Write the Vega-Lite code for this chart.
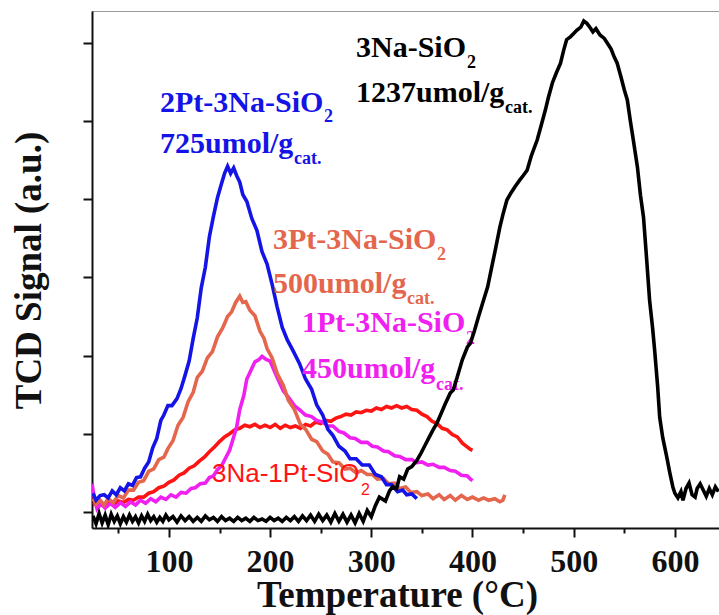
{
  "$schema": "https://vega.github.io/schema/vega-lite/v6.json",
  "width": 627,
  "height": 517,
  "autosize": "none",
  "padding": {"left": 92, "top": 11, "right": 0, "bottom": 87},
  "background": "white",
  "config": {
    "view": {"stroke": "#9a9a9a", "strokeWidth": 1},
    "axis": {
      "grid": false,
      "domainColor": "#111111",
      "domainWidth": 2,
      "tickColor": "#111111",
      "tickWidth": 2,
      "labelFont": "Liberation Serif",
      "labelFontWeight": "bold",
      "labelColor": "#111111",
      "titleFont": "Liberation Serif",
      "titleFontWeight": "bold",
      "titleColor": "#111111"
    }
  },
  "datasets": {
    "curves": [
      {"s":"red","t":25,"v":0.09},{"s":"red","t":30,"v":0.12},{"s":"red","t":35,"v":0.08},{"s":"red","t":40,"v":0.13},{"s":"red","t":45,"v":0.1},{"s":"red","t":50,"v":0.14},{"s":"red","t":55,"v":0.12},{"s":"red","t":60,"v":0.16},{"s":"red","t":65,"v":0.15},{"s":"red","t":70,"v":0.19},{"s":"red","t":75,"v":0.19},{"s":"red","t":80,"v":0.24},{"s":"red","t":85,"v":0.26},{"s":"red","t":90,"v":0.31},{"s":"red","t":95,"v":0.33},{"s":"red","t":100,"v":0.38},{"s":"red","t":105,"v":0.41},{"s":"red","t":110,"v":0.47},{"s":"red","t":115,"v":0.5},{"s":"red","t":120,"v":0.56},{"s":"red","t":125,"v":0.59},{"s":"red","t":130,"v":0.65},{"s":"red","t":135,"v":0.7},{"s":"red","t":140,"v":0.77},{"s":"red","t":145,"v":0.83},{"s":"red","t":150,"v":0.9},{"s":"red","t":155,"v":0.96},{"s":"red","t":160,"v":1.0},{"s":"red","t":165,"v":1.05},{"s":"red","t":170,"v":1.07},{"s":"red","t":175,"v":1.11},{"s":"red","t":180,"v":1.09},{"s":"red","t":185,"v":1.12},{"s":"red","t":190,"v":1.08},{"s":"red","t":195,"v":1.11},{"s":"red","t":200,"v":1.08},{"s":"red","t":205,"v":1.12},{"s":"red","t":210,"v":1.07},{"s":"red","t":215,"v":1.11},{"s":"red","t":220,"v":1.08},{"s":"red","t":225,"v":1.1},{"s":"red","t":230,"v":1.07},{"s":"red","t":235,"v":1.12},{"s":"red","t":240,"v":1.1},{"s":"red","t":245,"v":1.15},{"s":"red","t":250,"v":1.13},{"s":"red","t":255,"v":1.17},{"s":"red","t":260,"v":1.16},{"s":"red","t":265,"v":1.2},{"s":"red","t":270,"v":1.22},{"s":"red","t":275,"v":1.25},{"s":"red","t":280,"v":1.24},{"s":"red","t":285,"v":1.28},{"s":"red","t":290,"v":1.27},{"s":"red","t":295,"v":1.3},{"s":"red","t":300,"v":1.29},{"s":"red","t":305,"v":1.33},{"s":"red","t":310,"v":1.31},{"s":"red","t":315,"v":1.35},{"s":"red","t":320,"v":1.33},{"s":"red","t":325,"v":1.36},{"s":"red","t":330,"v":1.33},{"s":"red","t":335,"v":1.35},{"s":"red","t":340,"v":1.31},{"s":"red","t":345,"v":1.3},{"s":"red","t":350,"v":1.25},{"s":"red","t":355,"v":1.22},{"s":"red","t":360,"v":1.16},{"s":"red","t":365,"v":1.13},{"s":"red","t":370,"v":1.07},{"s":"red","t":375,"v":1.05},{"s":"red","t":380,"v":0.99},{"s":"red","t":385,"v":0.96},{"s":"red","t":390,"v":0.88},{"s":"red","t":395,"v":0.83},{"s":"red","t":398,"v":0.8},{"s":"red","t":400,"v":0.79},

      {"s":"magenta","t":24,"v":0.36},{"s":"magenta","t":26,"v":0.2},{"s":"magenta","t":29,"v":0.04},{"s":"magenta","t":33,"v":0.11},{"s":"magenta","t":37,"v":0.05},{"s":"magenta","t":42,"v":0.11},{"s":"magenta","t":47,"v":0.06},{"s":"magenta","t":52,"v":0.12},{"s":"magenta","t":57,"v":0.07},{"s":"magenta","t":62,"v":0.13},{"s":"magenta","t":67,"v":0.09},{"s":"magenta","t":72,"v":0.15},{"s":"magenta","t":77,"v":0.11},{"s":"magenta","t":82,"v":0.17},{"s":"magenta","t":87,"v":0.13},{"s":"magenta","t":92,"v":0.19},{"s":"magenta","t":97,"v":0.16},{"s":"magenta","t":102,"v":0.22},{"s":"magenta","t":107,"v":0.19},{"s":"magenta","t":112,"v":0.25},{"s":"magenta","t":117,"v":0.24},{"s":"magenta","t":122,"v":0.3},{"s":"magenta","t":126,"v":0.31},{"s":"magenta","t":131,"v":0.36},{"s":"magenta","t":136,"v":0.37},{"s":"magenta","t":140,"v":0.44},{"s":"magenta","t":144,"v":0.46},{"s":"magenta","t":148,"v":0.54},{"s":"magenta","t":152,"v":0.59},{"s":"magenta","t":156,"v":0.69},{"s":"magenta","t":160,"v":0.79},{"s":"magenta","t":164,"v":0.96},{"s":"magenta","t":167,"v":1.09},{"s":"magenta","t":170,"v":1.31},{"s":"magenta","t":174,"v":1.49},{"s":"magenta","t":177,"v":1.7},{"s":"magenta","t":181,"v":1.81},{"s":"magenta","t":185,"v":1.92},{"s":"magenta","t":189,"v":1.95},{"s":"magenta","t":192,"v":1.99},{"s":"magenta","t":196,"v":1.95},{"s":"magenta","t":200,"v":1.93},{"s":"magenta","t":204,"v":1.81},{"s":"magenta","t":208,"v":1.69},{"s":"magenta","t":213,"v":1.55},{"s":"magenta","t":218,"v":1.47},{"s":"magenta","t":224,"v":1.36},{"s":"magenta","t":229,"v":1.31},{"s":"magenta","t":235,"v":1.24},{"s":"magenta","t":241,"v":1.22},{"s":"magenta","t":246,"v":1.17},{"s":"magenta","t":252,"v":1.15},{"s":"magenta","t":257,"v":1.1},{"s":"magenta","t":262,"v":1.1},{"s":"magenta","t":268,"v":1.03},{"s":"magenta","t":273,"v":1.01},{"s":"magenta","t":279,"v":0.95},{"s":"magenta","t":284,"v":0.94},{"s":"magenta","t":290,"v":0.89},{"s":"magenta","t":296,"v":0.89},{"s":"magenta","t":301,"v":0.84},{"s":"magenta","t":306,"v":0.83},{"s":"magenta","t":312,"v":0.78},{"s":"magenta","t":317,"v":0.77},{"s":"magenta","t":323,"v":0.72},{"s":"magenta","t":328,"v":0.71},{"s":"magenta","t":334,"v":0.67},{"s":"magenta","t":340,"v":0.67},{"s":"magenta","t":345,"v":0.63},{"s":"magenta","t":350,"v":0.64},{"s":"magenta","t":356,"v":0.6},{"s":"magenta","t":361,"v":0.61},{"s":"magenta","t":367,"v":0.57},{"s":"magenta","t":372,"v":0.57},{"s":"magenta","t":378,"v":0.53},{"s":"magenta","t":383,"v":0.52},{"s":"magenta","t":389,"v":0.47},{"s":"magenta","t":395,"v":0.46},{"s":"magenta","t":398,"v":0.42},{"s":"magenta","t":400,"v":0.4},

      {"s":"coral","t":25,"v":0.17},{"s":"coral","t":28,"v":0.1},{"s":"coral","t":32,"v":0.15},{"s":"coral","t":36,"v":0.09},{"s":"coral","t":40,"v":0.17},{"s":"coral","t":45,"v":0.12},{"s":"coral","t":50,"v":0.21},{"s":"coral","t":55,"v":0.18},{"s":"coral","t":60,"v":0.28},{"s":"coral","t":65,"v":0.28},{"s":"coral","t":70,"v":0.38},{"s":"coral","t":75,"v":0.4},{"s":"coral","t":80,"v":0.52},{"s":"coral","t":85,"v":0.55},{"s":"coral","t":90,"v":0.67},{"s":"coral","t":95,"v":0.7},{"s":"coral","t":99,"v":0.81},{"s":"coral","t":104,"v":0.91},{"s":"coral","t":109,"v":1.11},{"s":"coral","t":114,"v":1.21},{"s":"coral","t":119,"v":1.41},{"s":"coral","t":124,"v":1.53},{"s":"coral","t":128,"v":1.72},{"s":"coral","t":133,"v":1.8},{"s":"coral","t":138,"v":1.97},{"s":"coral","t":143,"v":2.05},{"s":"coral","t":148,"v":2.24},{"s":"coral","t":153,"v":2.35},{"s":"coral","t":158,"v":2.5},{"s":"coral","t":162,"v":2.56},{"s":"coral","t":166,"v":2.68},{"s":"coral","t":170,"v":2.76},{"s":"coral","t":173,"v":2.68},{"s":"coral","t":176,"v":2.69},{"s":"coral","t":180,"v":2.58},{"s":"coral","t":185,"v":2.51},{"s":"coral","t":190,"v":2.31},{"s":"coral","t":194,"v":2.22},{"s":"coral","t":197,"v":2.09},{"s":"coral","t":202,"v":1.97},{"s":"coral","t":207,"v":1.77},{"s":"coral","t":213,"v":1.62},{"s":"coral","t":218,"v":1.43},{"s":"coral","t":224,"v":1.31},{"s":"coral","t":230,"v":1.12},{"s":"coral","t":235,"v":1.06},{"s":"coral","t":241,"v":0.93},{"s":"coral","t":246,"v":0.9},{"s":"coral","t":252,"v":0.78},{"s":"coral","t":257,"v":0.74},{"s":"coral","t":262,"v":0.64},{"s":"coral","t":268,"v":0.63},{"s":"coral","t":274,"v":0.55},{"s":"coral","t":279,"v":0.56},{"s":"coral","t":285,"v":0.5},{"s":"coral","t":290,"v":0.53},{"s":"coral","t":296,"v":0.48},{"s":"coral","t":301,"v":0.48},{"s":"coral","t":306,"v":0.42},{"s":"coral","t":312,"v":0.43},{"s":"coral","t":317,"v":0.36},{"s":"coral","t":323,"v":0.37},{"s":"coral","t":328,"v":0.3},{"s":"coral","t":334,"v":0.32},{"s":"coral","t":339,"v":0.25},{"s":"coral","t":345,"v":0.26},{"s":"coral","t":350,"v":0.21},{"s":"coral","t":356,"v":0.23},{"s":"coral","t":361,"v":0.17},{"s":"coral","t":367,"v":0.22},{"s":"coral","t":372,"v":0.16},{"s":"coral","t":378,"v":0.21},{"s":"coral","t":383,"v":0.15},{"s":"coral","t":389,"v":0.21},{"s":"coral","t":395,"v":0.16},{"s":"coral","t":400,"v":0.19},{"s":"coral","t":406,"v":0.15},{"s":"coral","t":411,"v":0.18},{"s":"coral","t":416,"v":0.15},{"s":"coral","t":422,"v":0.17},{"s":"coral","t":427,"v":0.13},{"s":"coral","t":430,"v":0.15},{"s":"coral","t":432,"v":0.22},

      {"s":"blue","t":25,"v":0.24},{"s":"blue","t":28,"v":0.15},{"s":"blue","t":32,"v":0.21},{"s":"blue","t":36,"v":0.22},{"s":"blue","t":40,"v":0.18},{"s":"blue","t":44,"v":0.27},{"s":"blue","t":48,"v":0.22},{"s":"blue","t":52,"v":0.31},{"s":"blue","t":56,"v":0.27},{"s":"blue","t":60,"v":0.36},{"s":"blue","t":64,"v":0.34},{"s":"blue","t":68,"v":0.44},{"s":"blue","t":72,"v":0.45},{"s":"blue","t":76,"v":0.56},{"s":"blue","t":80,"v":0.64},{"s":"blue","t":84,"v":0.82},{"s":"blue","t":88,"v":0.94},{"s":"blue","t":92,"v":1.17},{"s":"blue","t":95,"v":1.24},{"s":"blue","t":99,"v":1.36},{"s":"blue","t":103,"v":1.36},{"s":"blue","t":108,"v":1.45},{"s":"blue","t":112,"v":1.58},{"s":"blue","t":116,"v":1.75},{"s":"blue","t":120,"v":1.93},{"s":"blue","t":124,"v":2.22},{"s":"blue","t":128,"v":2.48},{"s":"blue","t":132,"v":2.87},{"s":"blue","t":136,"v":3.13},{"s":"blue","t":140,"v":3.52},{"s":"blue","t":144,"v":3.78},{"s":"blue","t":148,"v":4.02},{"s":"blue","t":152,"v":4.2},{"s":"blue","t":155,"v":4.33},{"s":"blue","t":158,"v":4.42},{"s":"blue","t":161,"v":4.33},{"s":"blue","t":164,"v":4.4},{"s":"blue","t":167,"v":4.3},{"s":"blue","t":170,"v":4.22},{"s":"blue","t":173,"v":4.06},{"s":"blue","t":177,"v":3.97},{"s":"blue","t":182,"v":3.75},{"s":"blue","t":187,"v":3.6},{"s":"blue","t":192,"v":3.33},{"s":"blue","t":197,"v":3.17},{"s":"blue","t":202,"v":2.91},{"s":"blue","t":207,"v":2.62},{"s":"blue","t":212,"v":2.36},{"s":"blue","t":217,"v":2.2},{"s":"blue","t":222,"v":2.08},{"s":"blue","t":229,"v":1.9},{"s":"blue","t":235,"v":1.7},{"s":"blue","t":241,"v":1.57},{"s":"blue","t":246,"v":1.37},{"s":"blue","t":252,"v":1.24},{"s":"blue","t":257,"v":1.06},{"s":"blue","t":262,"v":0.98},{"s":"blue","t":268,"v":0.84},{"s":"blue","t":274,"v":0.78},{"s":"blue","t":279,"v":0.68},{"s":"blue","t":285,"v":0.68},{"s":"blue","t":291,"v":0.6},{"s":"blue","t":298,"v":0.6},{"s":"blue","t":304,"v":0.48},{"s":"blue","t":310,"v":0.45},{"s":"blue","t":315,"v":0.35},{"s":"blue","t":320,"v":0.35},{"s":"blue","t":326,"v":0.26},{"s":"blue","t":331,"v":0.28},{"s":"blue","t":335,"v":0.22},{"s":"blue","t":340,"v":0.23},{"s":"blue","t":345,"v":0.17},

      {"s":"black","t":25,"v":-0.05},{"s":"black","t":28,"v":-0.15},{"s":"black","t":31,"v":-0.02},{"s":"black","t":34,"v":-0.14},{"s":"black","t":37,"v":-0.04},{"s":"black","t":40,"v":-0.16},{"s":"black","t":43,"v":-0.03},{"s":"black","t":46,"v":-0.12},{"s":"black","t":49,"v":-0.05},{"s":"black","t":52,"v":-0.15},{"s":"black","t":55,"v":-0.06},{"s":"black","t":58,"v":-0.13},{"s":"black","t":61,"v":-0.04},{"s":"black","t":64,"v":-0.12},{"s":"black","t":67,"v":-0.06},{"s":"black","t":70,"v":-0.14},{"s":"black","t":73,"v":-0.05},{"s":"black","t":76,"v":-0.12},{"s":"black","t":79,"v":-0.03},{"s":"black","t":82,"v":-0.11},{"s":"black","t":85,"v":-0.06},{"s":"black","t":88,"v":-0.13},{"s":"black","t":91,"v":-0.07},{"s":"black","t":94,"v":-0.12},{"s":"black","t":97,"v":-0.04},{"s":"black","t":100,"v":-0.1},{"s":"black","t":104,"v":-0.06},{"s":"black","t":108,"v":-0.13},{"s":"black","t":112,"v":-0.05},{"s":"black","t":116,"v":-0.11},{"s":"black","t":120,"v":-0.06},{"s":"black","t":124,"v":-0.12},{"s":"black","t":128,"v":-0.07},{"s":"black","t":132,"v":-0.12},{"s":"black","t":136,"v":-0.05},{"s":"black","t":140,"v":-0.1},{"s":"black","t":144,"v":-0.07},{"s":"black","t":148,"v":-0.12},{"s":"black","t":152,"v":-0.06},{"s":"black","t":156,"v":-0.11},{"s":"black","t":160,"v":-0.08},{"s":"black","t":164,"v":-0.12},{"s":"black","t":168,"v":-0.07},{"s":"black","t":172,"v":-0.11},{"s":"black","t":176,"v":-0.08},{"s":"black","t":180,"v":-0.12},{"s":"black","t":184,"v":-0.07},{"s":"black","t":188,"v":-0.11},{"s":"black","t":192,"v":-0.09},{"s":"black","t":196,"v":-0.12},{"s":"black","t":200,"v":-0.07},{"s":"black","t":204,"v":-0.11},{"s":"black","t":208,"v":-0.08},{"s":"black","t":212,"v":-0.12},{"s":"black","t":216,"v":-0.07},{"s":"black","t":220,"v":-0.11},{"s":"black","t":224,"v":-0.06},{"s":"black","t":228,"v":-0.12},{"s":"black","t":232,"v":-0.05},{"s":"black","t":236,"v":-0.11},{"s":"black","t":240,"v":-0.04},{"s":"black","t":244,"v":-0.12},{"s":"black","t":248,"v":-0.03},{"s":"black","t":252,"v":-0.11},{"s":"black","t":256,"v":-0.04},{"s":"black","t":260,"v":-0.13},{"s":"black","t":264,"v":-0.02},{"s":"black","t":268,"v":-0.12},{"s":"black","t":272,"v":-0.03},{"s":"black","t":276,"v":-0.13},{"s":"black","t":280,"v":-0.04},{"s":"black","t":284,"v":-0.14},{"s":"black","t":288,"v":-0.02},{"s":"black","t":292,"v":-0.12},{"s":"black","t":296,"v":0.02},{"s":"black","t":300,"v":-0.06},{"s":"black","t":304,"v":0.08},{"s":"black","t":308,"v":0.19},{"s":"black","t":314,"v":0.14},{"s":"black","t":318,"v":0.27},{"s":"black","t":321,"v":0.32},{"s":"black","t":325,"v":0.3},{"s":"black","t":328,"v":0.45},{"s":"black","t":332,"v":0.42},{"s":"black","t":336,"v":0.55},{"s":"black","t":340,"v":0.58},{"s":"black","t":345,"v":0.66},{"s":"black","t":349,"v":0.75},{"s":"black","t":353,"v":0.85},{"s":"black","t":357,"v":0.95},{"s":"black","t":361,"v":1.05},{"s":"black","t":365,"v":1.14},{"s":"black","t":369,"v":1.26},{"s":"black","t":373,"v":1.38},{"s":"black","t":378,"v":1.52},{"s":"black","t":381,"v":1.56},{"s":"black","t":385,"v":1.73},{"s":"black","t":390,"v":1.95},{"s":"black","t":395,"v":2.11},{"s":"black","t":398,"v":2.16},{"s":"black","t":402,"v":2.32},{"s":"black","t":406,"v":2.5},{"s":"black","t":410,"v":2.67},{"s":"black","t":415,"v":2.88},{"s":"black","t":419,"v":3.13},{"s":"black","t":423,"v":3.38},{"s":"black","t":427,"v":3.64},{"s":"black","t":430,"v":3.8},{"s":"black","t":434,"v":3.99},{"s":"black","t":438,"v":4.08},{"s":"black","t":442,"v":4.16},{"s":"black","t":447,"v":4.25},{"s":"black","t":450,"v":4.3},{"s":"black","t":454,"v":4.37},{"s":"black","t":458,"v":4.55},{"s":"black","t":464,"v":4.76},{"s":"black","t":468,"v":4.95},{"s":"black","t":472,"v":5.14},{"s":"black","t":475,"v":5.3},{"s":"black","t":479,"v":5.49},{"s":"black","t":483,"v":5.62},{"s":"black","t":487,"v":5.74},{"s":"black","t":490,"v":5.9},{"s":"black","t":493,"v":6.04},{"s":"black","t":497,"v":6.08},{"s":"black","t":500,"v":6.12},{"s":"black","t":503,"v":6.16},{"s":"black","t":507,"v":6.2},{"s":"black","t":510,"v":6.28},{"s":"black","t":513,"v":6.25},{"s":"black","t":516,"v":6.2},{"s":"black","t":519,"v":6.14},{"s":"black","t":522,"v":6.18},{"s":"black","t":526,"v":6.1},{"s":"black","t":530,"v":6.06},{"s":"black","t":533,"v":6.0},{"s":"black","t":537,"v":5.92},{"s":"black","t":540,"v":5.82},{"s":"black","t":543,"v":5.74},{"s":"black","t":547,"v":5.55},{"s":"black","t":550,"v":5.4},{"s":"black","t":553,"v":5.27},{"s":"black","t":556,"v":5.0},{"s":"black","t":559,"v":4.75},{"s":"black","t":563,"v":4.41},{"s":"black","t":566,"v":4.05},{"s":"black","t":569,"v":3.77},{"s":"black","t":572,"v":3.25},{"s":"black","t":575,"v":2.71},{"s":"black","t":578,"v":2.35},{"s":"black","t":580,"v":2.07},{"s":"black","t":583,"v":1.6},{"s":"black","t":585,"v":1.21},{"s":"black","t":588,"v":0.95},{"s":"black","t":592,"v":0.7},{"s":"black","t":595,"v":0.5},{"s":"black","t":598,"v":0.32},{"s":"black","t":600,"v":0.24},{"s":"black","t":603,"v":0.18},{"s":"black","t":606,"v":0.26},{"s":"black","t":608,"v":0.15},{"s":"black","t":611,"v":0.3},{"s":"black","t":614,"v":0.37},{"s":"black","t":617,"v":0.22},{"s":"black","t":620,"v":0.19},{"s":"black","t":622,"v":0.3},{"s":"black","t":625,"v":0.36},{"s":"black","t":628,"v":0.28},{"s":"black","t":631,"v":0.2},{"s":"black","t":634,"v":0.3},{"s":"black","t":637,"v":0.22},{"s":"black","t":640,"v":0.32},{"s":"black","t":643,"v":0.26}
    ],
    "notes": [
      {"s":"blue","t":91.2,"v":5.115,"txt":"2Pt-3Na-SiO"},
      {"s":"blue","t":91.2,"v":4.591,"txt":"725umol/g"},
      {"s":"black","t":284.9,"v":5.818,"txt":"3Na-SiO"},
      {"s":"black","t":284.9,"v":5.243,"txt":"1237umol/g"},
      {"s":"coral","t":202.9,"v":3.363,"txt":"3Pt-3Na-SiO"},
      {"s":"coral","t":202.9,"v":2.801,"txt":"500umol/g"},
      {"s":"magenta","t":231.5,"v":2.302,"txt":"1Pt-3Na-SiO"},
      {"s":"magenta","t":231.5,"v":1.714,"txt":"450umol/g"}
    ],
    "subs": [
      {"s":"blue","t":253.3,"v":4.987,"txt":"2"},
      {"s":"blue","t":223.6,"v":4.45,"txt":"cat."},
      {"s":"black","t":394.6,"v":5.678,"txt":"2"},
      {"s":"black","t":432.1,"v":5.102,"txt":"cat."},
      {"s":"coral","t":364.9,"v":3.222,"txt":"2"},
      {"s":"coral","t":335.3,"v":2.665,"txt":"cat."},
      {"s":"magenta","t":393.6,"v":2.148,"txt":"2"},
      {"s":"magenta","t":363.9,"v":1.56,"txt":"cat."}
    ],
    "sansNote": [
      {"s":"red","t":142.6,"v":0.384,"txt":"3Na-1Pt-SiO"}
    ],
    "sansSub": [
      {"s":"red","t":289.8,"v":0.217,"txt":"2"}
    ]
  },
  "encoding": {
    "x": {
      "field": "t",
      "type": "quantitative",
      "scale": {"domain": [24, 643.6], "nice": false, "zero": false},
      "axis": {
        "values": [50, 100, 150, 200, 250, 300, 350, 400, 450, 500, 550, 600],
        "labelExpr": "datum.value % 100 === 0 ? datum.label : ''",
        "tickSize": {"condition": {"test": "datum.value % 100 === 0", "value": 9}, "value": 5},
        "labelFontSize": 32,
        "labelBaseline": "alphabetic",
        "labelPadding": 34,
        "labelFlush": false,
        "labelOverlap": false,
        "title": "Temperature (°C)",
        "titleFontSize": 37,
        "titleX": 305,
        "titleY": 78,
        "titleAlign": "center",
        "titleBaseline": "alphabetic"
      }
    },
    "y": {
      "field": "v",
      "type": "quantitative",
      "scale": {"domain": [-0.205, 6.407], "nice": false, "zero": false},
      "axis": {
        "values": [0, 1, 2, 3, 4, 5, 6],
        "labels": false,
        "tickSize": 9,
        "title": "TCD Signal (a.u.)",
        "titleFontSize": 37,
        "titleAngle": -90,
        "titleX": -52,
        "titleY": 259,
        "titleAlign": "center",
        "titleBaseline": "alphabetic"
      }
    },
    "color": {
      "field": "s",
      "type": "nominal",
      "legend": null,
      "scale": {
        "domain": ["black", "blue", "coral", "magenta", "red"],
        "range": ["#000000", "#1414e6", "#e4664c", "#f020f0", "#ff1414"]
      }
    }
  },
  "layer": [
    {"data": {"name": "curves"}, "transform": [{"filter": "datum.s === 'red'"}], "mark": {"type": "line", "strokeWidth": 3.6, "clip": true}},
    {"data": {"name": "curves"}, "transform": [{"filter": "datum.s === 'magenta'"}], "mark": {"type": "line", "strokeWidth": 3.6, "clip": true}},
    {"data": {"name": "curves"}, "transform": [{"filter": "datum.s === 'coral'"}], "mark": {"type": "line", "strokeWidth": 3.6, "clip": true}},
    {"data": {"name": "curves"}, "transform": [{"filter": "datum.s === 'blue'"}], "mark": {"type": "line", "strokeWidth": 3.6, "clip": true}},
    {"data": {"name": "notes"}, "mark": {"type": "text", "font": "Liberation Serif", "fontWeight": "bold", "fontSize": 30, "align": "left", "baseline": "alphabetic"}, "encoding": {"text": {"field": "txt"}}},
    {"data": {"name": "subs"}, "mark": {"type": "text", "font": "Liberation Serif", "fontWeight": "bold", "fontSize": 18, "align": "left", "baseline": "alphabetic"}, "encoding": {"text": {"field": "txt"}}},
    {"data": {"name": "sansNote"}, "mark": {"type": "text", "font": "Liberation Sans", "fontSize": 26, "align": "left", "baseline": "alphabetic"}, "encoding": {"text": {"field": "txt"}}},
    {"data": {"name": "sansSub"}, "mark": {"type": "text", "font": "Liberation Sans", "fontSize": 16, "align": "left", "baseline": "alphabetic"}, "encoding": {"text": {"field": "txt"}}},
    {"data": {"name": "curves"}, "transform": [{"filter": "datum.s === 'black'"}], "mark": {"type": "line", "strokeWidth": 3.6, "clip": true}}
  ]
}
